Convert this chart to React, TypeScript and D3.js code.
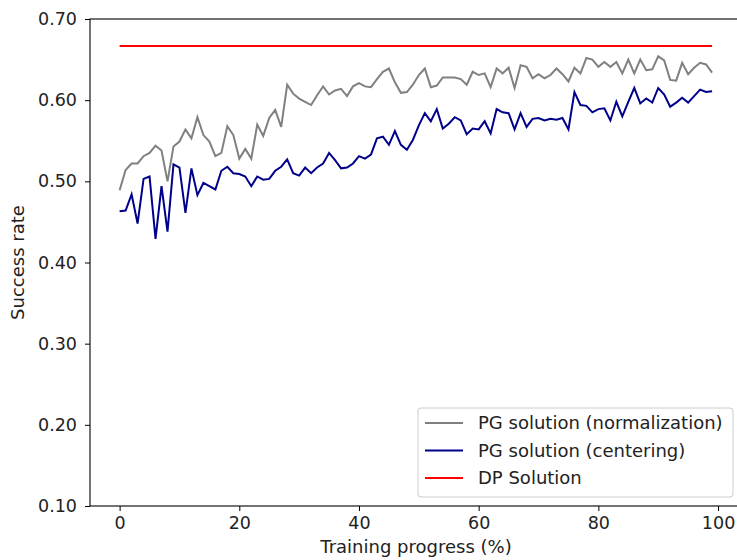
import React, { useEffect, useRef } from 'react';
import * as d3 from 'd3';

// training progress steps 0..99
const steps: number[] = d3.range(100);

const normalization: number[] = [
  0.489, 0.514, 0.522, 0.522, 0.531, 0.535, 0.544, 0.538, 0.500, 0.543,
  0.549, 0.564, 0.553, 0.579, 0.557, 0.549, 0.531, 0.535, 0.568, 0.557,
  0.528, 0.540, 0.528, 0.570, 0.556, 0.578, 0.588, 0.567, 0.619, 0.608,
  0.602, 0.598, 0.594, 0.606, 0.617, 0.607, 0.612, 0.614, 0.605, 0.617,
  0.621, 0.617, 0.616, 0.626, 0.635, 0.639, 0.622, 0.609, 0.610, 0.619,
  0.631, 0.639, 0.616, 0.618, 0.628, 0.628, 0.628, 0.626, 0.619, 0.635,
  0.631, 0.633, 0.616, 0.639, 0.633, 0.640, 0.615, 0.643, 0.641, 0.627,
  0.632, 0.627, 0.631, 0.639, 0.632, 0.623, 0.640, 0.633, 0.652, 0.650,
  0.641, 0.647, 0.641, 0.647, 0.633, 0.650, 0.633, 0.650, 0.637, 0.638,
  0.654, 0.649, 0.625, 0.624, 0.646, 0.632, 0.640, 0.646, 0.644, 0.634,
];

const centering: number[] = [
  0.463, 0.464, 0.484, 0.448, 0.503, 0.506, 0.429, 0.494, 0.438, 0.521,
  0.517, 0.461, 0.516, 0.483, 0.498, 0.494, 0.490, 0.513, 0.518, 0.510,
  0.509, 0.506, 0.494, 0.506, 0.502, 0.503, 0.513, 0.518, 0.527, 0.510,
  0.507, 0.517, 0.510, 0.517, 0.522, 0.535, 0.526, 0.516, 0.517, 0.522,
  0.531, 0.528, 0.533, 0.553, 0.555, 0.545, 0.562, 0.545, 0.539, 0.551,
  0.569, 0.584, 0.574, 0.589, 0.565, 0.571, 0.579, 0.575, 0.558, 0.565,
  0.564, 0.574, 0.559, 0.589, 0.585, 0.584, 0.564, 0.584, 0.567, 0.577,
  0.578, 0.575, 0.577, 0.576, 0.578, 0.564, 0.610, 0.594, 0.593, 0.585,
  0.589, 0.590, 0.575, 0.598, 0.580, 0.598, 0.615, 0.596, 0.602, 0.597,
  0.615, 0.607, 0.592, 0.597, 0.603, 0.597, 0.605, 0.613, 0.610, 0.611,
];

const dpValue = 2 / 3;

const yTicks: number[] = [0.1, 0.2, 0.3, 0.4, 0.5, 0.6, 0.7];
const xTicks: number[] = [0, 20, 40, 60, 80, 100];

const seriesNames: string[] = ['PG solution (normalization)', 'PG solution (centering)', 'DP Solution'];
const seriesColors: string[] = ['#808080', '#00008b', '#ff0000'];

const FONT = 'DejaVu Sans, sans-serif';

export default function App() {
  const ref = useRef<SVGSVGElement | null>(null);

  useEffect(() => {
    const svg = d3.select(ref.current);
    svg.selectAll('*').remove();

    const left = 90, top = 19, bottom = 506, right = 741.7;

    const x = d3.scaleLinear().domain([-4.95, 103.95]).range([left, right]);
    const y = d3.scaleLinear().domain([0.1, 0.7]).range([bottom, top]);

    // axes
    const gx = svg.append('g')
      .attr('transform', 'translate(0,' + bottom + ')')
      .call(d3.axisBottom(x).tickValues(xTicks).tickFormat(d3.format('d')).tickSize(5).tickPadding(6));
    const gy = svg.append('g')
      .attr('transform', 'translate(' + left + ',0)')
      .call(d3.axisLeft(y).tickValues(yTicks).tickFormat(d3.format('.2f')).tickSize(5).tickPadding(8));
    ;[gx, gy].forEach(g => {
      g.select('.domain').remove();
      g.selectAll('text').attr('font-family', FONT).attr('font-size', 17.5).attr('fill', '#222');
      g.selectAll('line').attr('stroke', '#000');
    });

    // spines
    svg.append('rect')
      .attr('x', left).attr('y', top)
      .attr('width', right - left).attr('height', bottom - top)
      .attr('fill', 'none').attr('stroke', '#000').attr('stroke-width', 1.1);

    const line = d3.line<number>()
      .x((d, i) => x(steps[i]))
      .y(d => y(d));

    svg.append('path').datum(normalization)
      .attr('d', line).attr('fill', 'none')
      .attr('stroke', seriesColors[0]).attr('stroke-width', 2);
    svg.append('path').datum(centering)
      .attr('d', line).attr('fill', 'none')
      .attr('stroke', seriesColors[1]).attr('stroke-width', 2);
    svg.append('path').datum(steps.map(() => dpValue))
      .attr('d', line).attr('fill', 'none')
      .attr('stroke', seriesColors[2]).attr('stroke-width', 2);

    // axis labels
    svg.append('text')
      .attr('x', 416).attr('y', 553)
      .attr('text-anchor', 'middle')
      .attr('font-family', FONT).attr('font-size', 18).attr('fill', '#222')
      .text('Training progress (%)');
    svg.append('text')
      .attr('transform', 'translate(24,' + (top + bottom) / 2 + ') rotate(-90)')
      .attr('text-anchor', 'middle')
      .attr('font-family', FONT).attr('font-size', 18).attr('fill', '#222')
      .text('Success rate');

    // legend
    const lg = svg.append('g').attr('transform', 'translate(418,408)');
    lg.append('rect')
      .attr('width', 315).attr('height', 89)
      .attr('rx', 3)
      .attr('fill', 'rgba(255,255,255,0.8)')
      .attr('stroke', '#cccccc');
    seriesNames.forEach((name, i) => {
      const cy = 15 + i * 27.5;
      lg.append('line')
        .attr('x1', 7).attr('x2', 45).attr('y1', cy).attr('y2', cy)
        .attr('stroke', seriesColors[i]).attr('stroke-width', 2);
      lg.append('text')
        .attr('x', 60).attr('y', cy).attr('dy', '0.35em')
        .attr('font-family', FONT).attr('font-size', 18)
        .attr('fill', '#222')
        .text(name);
    });
  }, []);

  return (
    <svg
      ref={ref}
      width={737}
      height={560}
      style={{ position: 'absolute', left: 0, top: 0, background: '#fff' }}
    />
  );
}
